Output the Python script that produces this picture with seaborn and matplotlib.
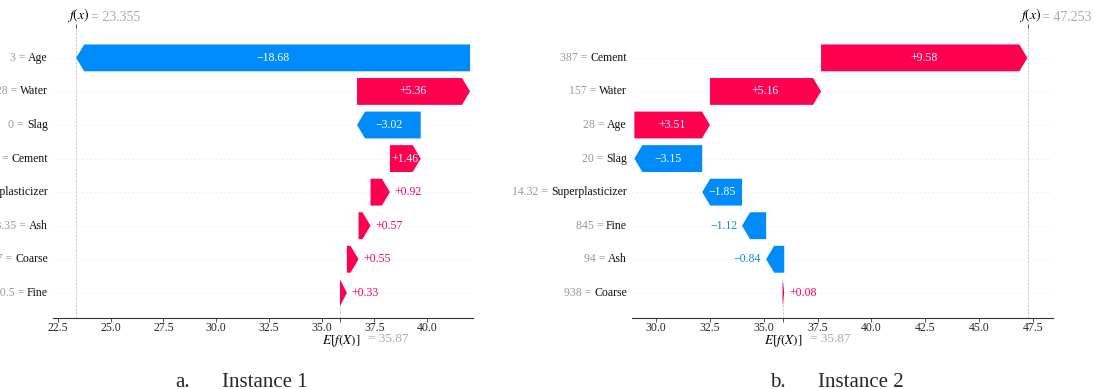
import numpy as np
import matplotlib
matplotlib.use("Agg")
import matplotlib.pyplot as plt
import matplotlib.transforms as mtransforms
from matplotlib.patches import FancyArrow
import seaborn as sns

# === Données ===
base_value = 35.87

features_1 = ["Age", "Water", "Slag", "Cement", "Superplasticizer", "Ash", "Coarse", "Fine"]
values_1 = ["3", "228", "0", "540", "0", "118.35", "1047", "670.5"]
shap_1 = [-18.68, 5.36, -3.02, 1.46, 0.92, 0.57, 0.55, 0.33]
fx_1 = 23.355
ticks_1 = [22.5, 25.0, 27.5, 30.0, 32.5, 35.0, 37.5, 40.0]

features_2 = ["Cement", "Water", "Age", "Slag", "Superplasticizer", "Fine", "Ash", "Coarse"]
values_2 = ["387", "157", "28", "20", "14.32", "845", "94", "938"]
shap_2 = [9.58, 5.16, 3.51, -3.15, -1.85, -1.12, -0.84, 0.08]
fx_2 = 47.253
ticks_2 = [30.0, 32.5, 35.0, 37.5, 40.0, 42.5, 45.0, 47.5]

captions = [("a.", "Instance 1"), ("b.", "Instance 2")]

RED = "#ff0051"
BLUE = "#008bfb"
GRAY = "#999999"

# === Style ===
sns.set_theme(style="white")
plt.rcParams["font.family"] = ["Liberation Serif", "DejaVu Serif"]
plt.rcParams["mathtext.fontset"] = "stix"

fig = plt.figure(figsize=(10.95, 3.89), dpi=100)
W, H = 1095, 389


def waterfall(ax, features, values, shap, fx, ticks, xlim):
    n = len(features)
    ax.set_xlim(*xlim)
    ax.set_ylim(-0.75, n - 0.11)
    ypos = np.arange(n)[::-1]  # première variable en haut

    # départ de chaque flèche : on remonte depuis E[f(X)]
    shap_arr = np.array(shap)
    rev = shap_arr[::-1]
    starts_rev = base_value + np.concatenate([[0], np.cumsum(rev)[:-1]])
    starts = starts_rev[::-1]

    fig.canvas.draw()
    renderer = fig.canvas.get_renderer()
    bbox = ax.get_window_extent().transformed(fig.dpi_scale_trans.inverted())
    xlen = xlim[1] - xlim[0]
    hl = 0.08 * xlen / bbox.width

    # lignes de fond
    for y in ypos:
        ax.axhline(y, color="#cccccc", lw=0.5, dashes=(1, 5), zorder=-1)
    ax.axvline(base_value, 0, 1 / n, color="#bbbbbb", ls="--", lw=0.5, zorder=-1)
    ax.axvline(fx, 0, 1, color="#bbbbbb", ls="--", lw=0.5, zorder=-1)

    for x0, dx, y in zip(starts, shap, ypos):
        col = RED if dx > 0 else BLUE
        arrow = FancyArrow(x0, y, dx, 0, width=0.8, head_width=0.8,
                           head_length=min(hl, abs(dx)), length_includes_head=True,
                           color=col, lw=0)
        ax.add_patch(arrow)
        label = ("+" if dx > 0 else "\u2212") + f"{abs(dx):.2f}"
        txt = ax.text(x0 + dx / 2, y, label, ha="center", va="center",
                      color="white", fontsize=8.5)
        tw = txt.get_window_extent(renderer=renderer).width
        aw = arrow.get_window_extent(renderer=renderer).width
        if tw > aw:
            txt.remove()
            off = 0.05 if dx > 0 else -0.05
            tr = ax.transData + mtransforms.ScaledTranslation(off, 0, fig.dpi_scale_trans)
            ax.text(x0 + dx, y, label, ha="left" if dx > 0 else "right",
                    va="center", color=col, fontsize=8.5, transform=tr)

    # étiquettes des variables : valeur en gris, nom en noir
    lab_tr = ax.get_yaxis_transform() + mtransforms.ScaledTranslation(-0.05, 0, fig.dpi_scale_trans)
    for name, val, y in zip(features, values, ypos):
        t = ax.text(0, y, name, transform=lab_tr, ha="right", va="center",
                    fontsize=8.5, color="#111111", clip_on=False)
        ax.annotate(val + " = ", xy=(0, 0.5), xycoords=t, ha="right", va="center",
                    fontsize=8.5, color=GRAY, annotation_clip=False)

    ax.set_yticks([])
    ax.set_xticks(ticks)
    ax.set_xticklabels([f"{t:.1f}" for t in ticks])
    ax.set_xticks([base_value], minor=True)
    ax.tick_params(axis="x", which="both", bottom=True, direction="out",
                   length=3, width=0.6, color="#333333", labelsize=8.5, pad=0)
    ax.tick_params(axis="x", which="minor", length=3)
    sns.despine(ax=ax, left=True, top=True, right=True)
    ax.spines["bottom"].set_color("#333333")
    ax.spines["bottom"].set_linewidth(0.8)
    ax.grid(False)

    # repère f(x) en haut
    ax_top = ax.twiny()
    ax_top.set_xlim(*xlim)
    ax_top.set_xticks([fx])
    ax_top.set_xticklabels([""])
    ax_top.tick_params(axis="x", top=True, length=3, width=0.6, color="#333333", direction="out")
    sns.despine(ax=ax_top, left=True, bottom=True, right=True, top=True)
    ax_top.grid(False)

    xt = ax.get_xaxis_transform()
    ax.annotate("$f(x)$", xy=(fx, 1), xycoords=xt, xytext=(-6.5, 3),
                textcoords="offset points", ha="left", va="bottom", fontsize=10,
                color="black", annotation_clip=False)
    ax.annotate(f"= {fx:.3f}", xy=(fx, 1), xycoords=xt, xytext=(10.5, 3),
                textcoords="offset points", ha="left", va="bottom", fontsize=10,
                color="#aaaaaa", annotation_clip=False)
    ax.annotate("$E[f(X)]$", xy=(base_value, 0), xycoords=xt, xytext=(-13, -11),
                textcoords="offset points", ha="left", va="top", fontsize=9.5,
                color="black", annotation_clip=False)
    ax.annotate(f"= {base_value:.2f}", xy=(base_value, 0), xycoords=xt, xytext=(20, -11),
                textcoords="offset points", ha="left", va="top", fontsize=9.5,
                color="#aaaaaa", annotation_clip=False)


bottom = 1 - 318 / H
height = (318 - 28) / H
ax1 = fig.add_axes([53 / W, bottom, 420 / W, height])
ax2 = fig.add_axes([632 / W, bottom, 421 / W, height])

waterfall(ax1, features_1, values_1, shap_1, fx_1, ticks_1, (22.26, 42.18))
waterfall(ax2, features_2, values_2, shap_2, fx_2, ticks_2, (28.88, 48.43))

# légendes sous chaque panneau
cap_y = 1 - 387 / H
for (letter, title), (xl, xt) in zip(captions, [(175, 222), (770, 818)]):
    fig.text(xl / W, cap_y, letter, fontsize=15, va="baseline", ha="left")
    fig.text(xt / W, cap_y, title, fontsize=15, va="baseline", ha="left")

fig.savefig("out.png", dpi=100)
